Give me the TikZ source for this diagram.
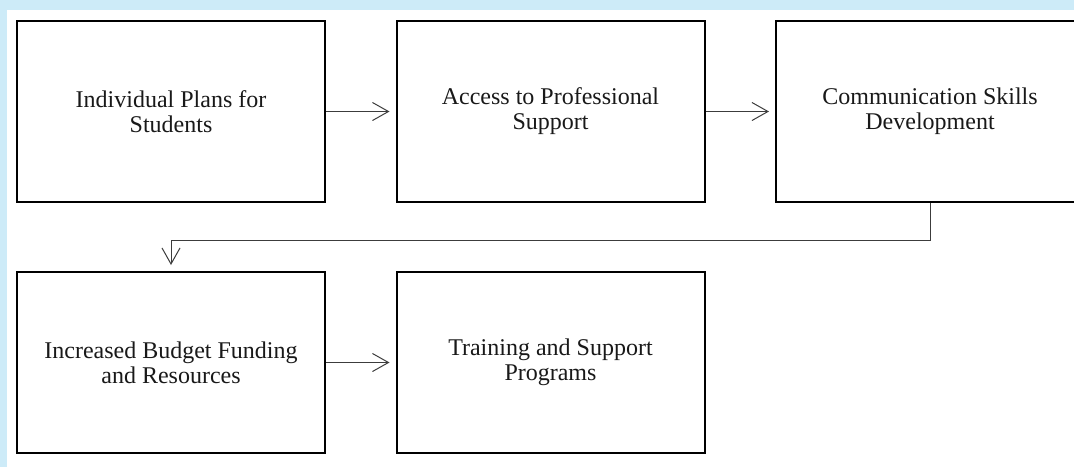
\documentclass[tikz,border=0pt]{standalone}
\usepackage{fontspec}
\setmainfont{Liberation Serif}
\usetikzlibrary{arrows.meta}
\definecolor{bandblue}{RGB}{205,235,248}
\definecolor{linegray}{RGB}{60,60,60}
\tikzset{
  stepbox/.style={draw=black, line width=2pt, fill=white, minimum width=308pt,
    minimum height=181pt, align=center, inner sep=0pt,
    font=\fontsize{24}{25}\selectfont, text=black!90},
  conn/.style={draw=linegray, line width=1pt, shorten >=6pt,
    -{Straight Barb[length=16pt, width=18pt, line width=1pt]}}
}
\begin{document}
\begin{tikzpicture}[x=1pt, y=-1pt]
  \useasboundingbox (0,0) rectangle (1074,467);
  \clip (0,0) rectangle (1074,467);
  % page frame: light blue band at top and left
  \fill[bandblue] (0,0) rectangle (1074,467);
  \fill[white] (7,10) rectangle (1074,467);

  % process steps
  \node[stepbox] (b1) at (171,111.5) {Individual Plans for\\Students};
  \node[stepbox] (b2) at (550.5,111.5) {Access to Professional\\Support};
  \node[stepbox] (b3) at (930,111.5) {Communication Skills\\Development};
  \node[stepbox] (b4) at (171,362.5) {Increased Budget Funding\\and Resources};
  \node[stepbox] (b5) at (550.5,362.5) {Training and Support\\Programs};

  % connectors
  \draw[conn] (b1.east) -- (b2.west);
  \draw[conn] (b2.east) -- (b3.west);
  \draw[conn] (b3.south) -- ++(0,37) -| (b4.north);
  \draw[conn] (b4.east) -- (b5.west);
\end{tikzpicture}
\end{document}
